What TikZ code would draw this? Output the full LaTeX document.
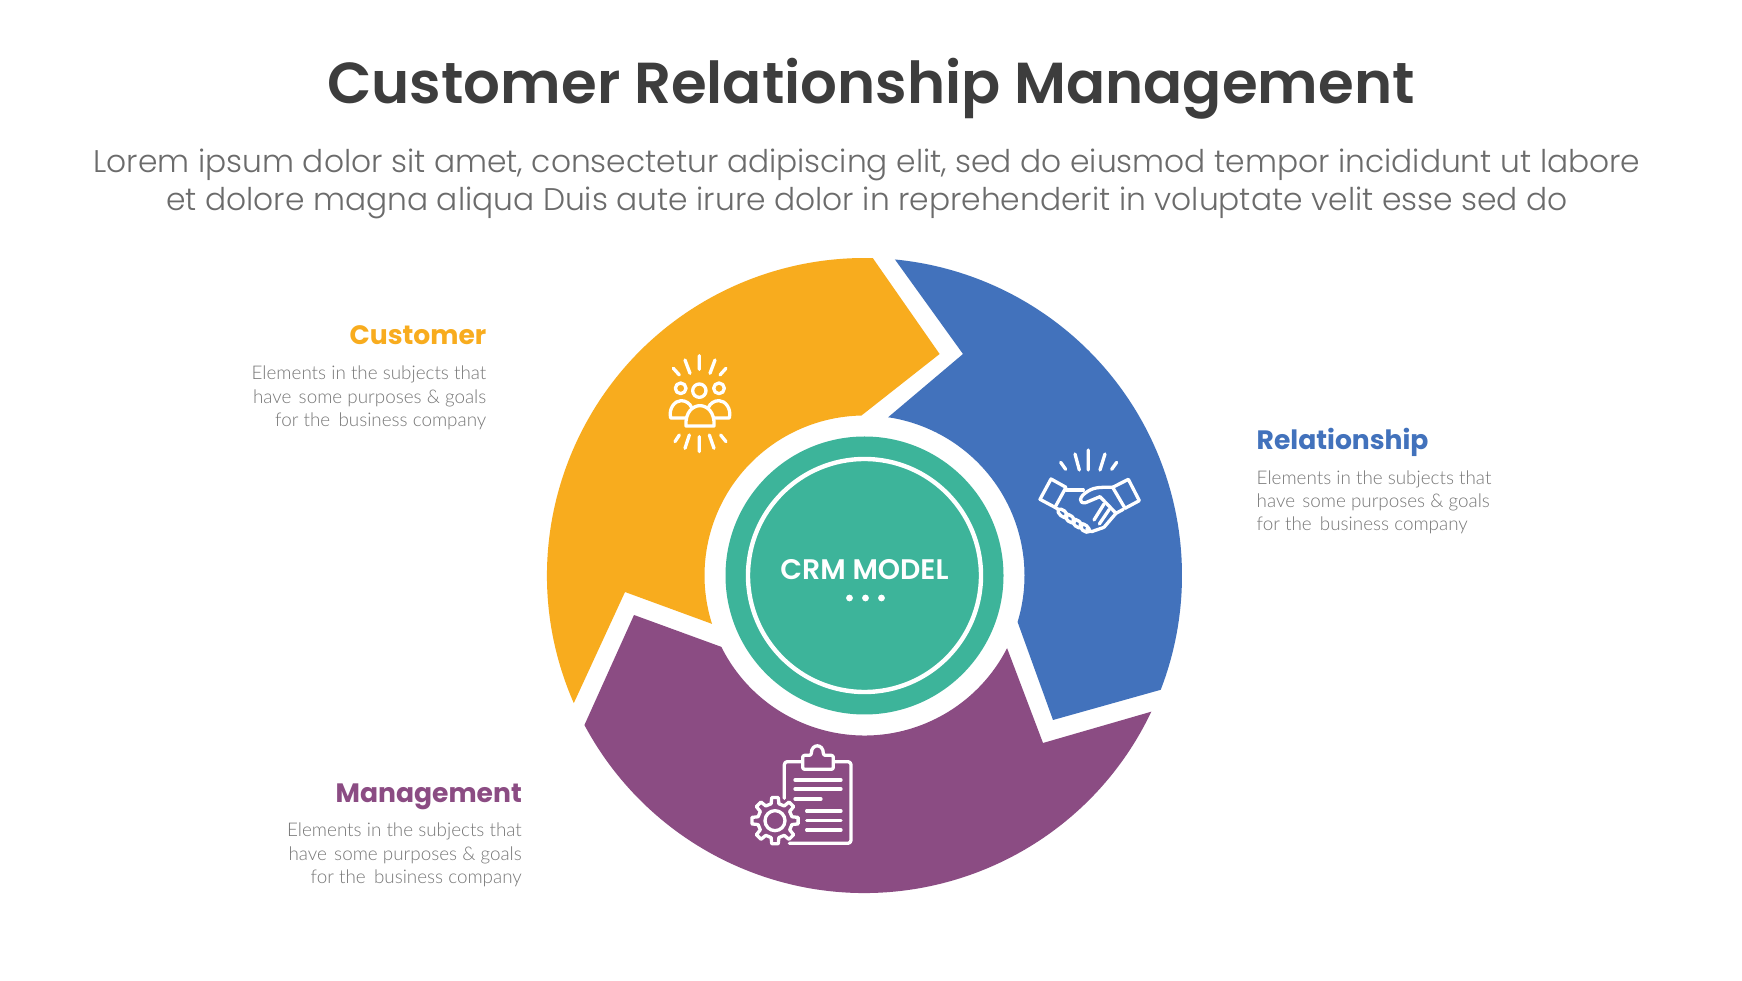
\documentclass[tikz,border=0pt]{standalone}
\usepackage{fontspec}
\setmainfont{Poppins}
\newfontfamily\ptitle{Poppins SemiBold}
\newfontfamily\plight{Poppins Light}
\newfontfamily\phead{Poppins Bold}
\newfontfamily\lbody{Lato Light}
\definecolor{cOrange}{HTML}{F8AC1E}
\definecolor{cBlue}{HTML}{4272BC}
\definecolor{cPurple}{HTML}{8B4C83}
\definecolor{cGreen}{HTML}{3DB49A}
\definecolor{cTitle}{HTML}{3D3D3D}
\definecolor{cSub}{HTML}{6B6B6B}
\definecolor{cBody}{HTML}{777777}
\tikzset{
  x=1pt,y=1pt,
  petal/.style={draw=none},
  icon/.style={draw=white,line width=3.3pt,line cap=round,line join=round},
  headlabel/.style={inner sep=0pt,font=\phead\fontsize{26.6}{30}\selectfont},
  bodylabel/.style={inner sep=0pt,text=cBody,font=\lbody\fontsize{18.85}{23.3}\selectfont},
}
\begin{document}
\begin{tikzpicture}
\useasboundingbox (0,0) rectangle (1742,980);
\fill[white] (0,0) rectangle (1742,980);
% texts
\node[inner sep=0pt,text=cTitle,font=\ptitle\fontsize{57.8}{68}\selectfont,anchor=base] (title) at (871,876) {Customer Relationship Management};
\node[inner sep=0pt,text=cSub,font=\plight\fontsize{31.3}{38}\selectfont,align=center,anchor=center] (sub) at (867,796.5) {Lorem ipsum dolor sit amet, consectetur adipiscing elit, sed do eiusmod tempor incididunt ut labore\\et dolore magna aliqua Duis aute irure dolor in reprehenderit in voluptate velit esse sed do};
% petals
\begin{scope}[shift={(864.5,404.5)}]
\fill[petal,cOrange] (203.7:317.5) arc[start angle=203.7,end angle=88.5,radius=317.5] -- (75.1,221.5) -- (91.1:160) arc[start angle=91.1,end angle=197.6,radius=160] -- (-239.5,-16.5) -- cycle;
\fill[petal,cBlue] (84.5:317.5) arc[start angle=84.5,end angle=-21.1,radius=317.5] -- (188.5,-144.5) -- (-16.9:160) arc[start angle=-16.9,end angle=81.5,radius=160] -- (98.5,221.5) -- cycle;
\fill[petal,cPurple] (-25.4:317.5) arc[start angle=-25.4,end angle=-151.9,radius=317.5] -- (-230.5,-39.5) -- (-153.5:160) arc[start angle=-153.5,end angle=-27,radius=160] -- (178.5,-167.5) -- cycle;
\node[circle,fill=cGreen,minimum size=278pt,inner sep=0pt] (hub) at (0,0) {};
\node[circle,draw=white,line width=4.4pt,minimum size=233pt,inner sep=0pt] (ring) at (0,0) {};
\node[inner sep=0pt,text=white,font=\ptitle\fontsize{28.3}{32}\selectfont] (crm) at (0,6) {CRM MODEL};
\fill[white] (-15,-22.5) circle[radius=3.4] (1,-22.5) circle[radius=3.4] (17,-22.5) circle[radius=3.4];
\end{scope}
% group icon
\begin{scope}[shift={(640,640)},x=0.3333pt,y=-0.3333pt]
\draw[icon] (178,47)--(178,88) (135,60)--(150,100) (225,60)--(210,100) (100,85)--(118,105) (258,85)--(240,105);
\draw[icon] (178,290)--(178,335) (148,285)--(135,325) (208,285)--(222,325) (118,285)--(105,305) (242,285)--(258,305);
\draw[icon] (178,152) circle[radius=20] (122,145) circle[radius=16] (237,145) circle[radius=16];
\draw[icon] (138,258) .. controls (135,215) and (160,197) .. (180,197) .. controls (200,197) and (225,215) .. (222,258) -- cycle;
\draw[icon] (138,234) -- (92,234) .. controls (85,205) and (105,182) .. (123,182) .. controls (137,182) and (150,190) .. (155,203);
\draw[icon] (222,234) -- (268,234) .. controls (275,205) and (255,182) .. (237,182) .. controls (223,182) and (210,190) .. (205,203);
\end{scope}
% handshake icon
\begin{scope}[shift={(1020,550)},x=0.3333pt,y=-0.3333pt]
\draw[icon] (205,60)--(205,120) (165,72)--(178,120) (122,97)--(137,118) (255,72)--(240,120) (290,97)--(275,118);
\draw[icon] (93,147)--(138,172)--(105,232)--(60,208)--cycle;
\draw[icon] (325,148)--(358,212)--(315,235)--(278,172)--cycle;
\draw[icon] (138,180)--(190,180);
\draw[icon] (278,172) .. controls (250,172) and (225,170) .. (205,183) .. controls (175,200) and (175,222) .. (197,218) -- (240,200) -- (288,250) -- (310,238);
\draw[icon] (105,232)--(118,240);
\foreach \cx/\cy in {128/250,150/266,172/281,194/294}
  \draw[icon] (\cx,\cy) ellipse[x radius=17,y radius=9,rotate=-40];
\draw[icon] (252,222)--(222,270) (268,238)--(238,282) (288,250)--(252,292) (252,292)--(215,305)--(200,298);
\end{scope}
% clipboard icon
\begin{scope}[shift={(740,250)},x=0.3333pt,y=-0.3333pt]
\draw[icon,rounded corners=3pt] (133,205) -- (133,95) -- (333,95) -- (333,340) -- (148,340);
\draw[icon,fill=cPurple,rounded corners=2pt] (188,118) -- (188,76) -- (214,76) .. controls (214,40) and (250,40) .. (250,76) -- (280,76) -- (280,118) -- cycle;
\draw[icon] (165,150)--(303,150) (165,177)--(303,177) (165,207)--(243,207) (200,243)--(303,243) (200,271)--(303,271) (200,300)--(303,300);
\begin{scope}[shift={(105,272)}]
\draw[icon,fill=cPurple] (-14:52) \foreach \a in {0,45,...,315} { -- (\a-13:52) -- (\a-8:70) -- (\a+8:70) -- (\a+13:52) } -- cycle;
\draw[icon] (0,0) circle[radius=30];
\end{scope}
\end{scope}
% side labels
\node[headlabel,text=cOrange,anchor=base east] (h1) at (486.5,635) {Customer};
\node[bodylabel,align=right,anchor=east] (b1) at (486.5,582) {Elements in the subjects that\\have\ \kern-3pt\ some purposes \& goals\\for the\ \kern-2pt\ business company};
\node[headlabel,text=cBlue,anchor=base west] (h2) at (1256.5,530.5) {Relationship};
\node[bodylabel,align=left,anchor=west] (b2) at (1256.5,477.5) {Elements in the subjects that\\have\ \kern-3pt\ some purposes \& goals\\for the\ \kern-2pt\ business company};
\node[headlabel,text=cPurple,anchor=base east] (h3) at (522,177.5) {Management};
\node[bodylabel,align=right,anchor=east] (b3) at (522,125) {Elements in the subjects that\\have\ \kern-3pt\ some purposes \& goals\\for the\ \kern-2pt\ business company};
\end{tikzpicture}
\end{document}
